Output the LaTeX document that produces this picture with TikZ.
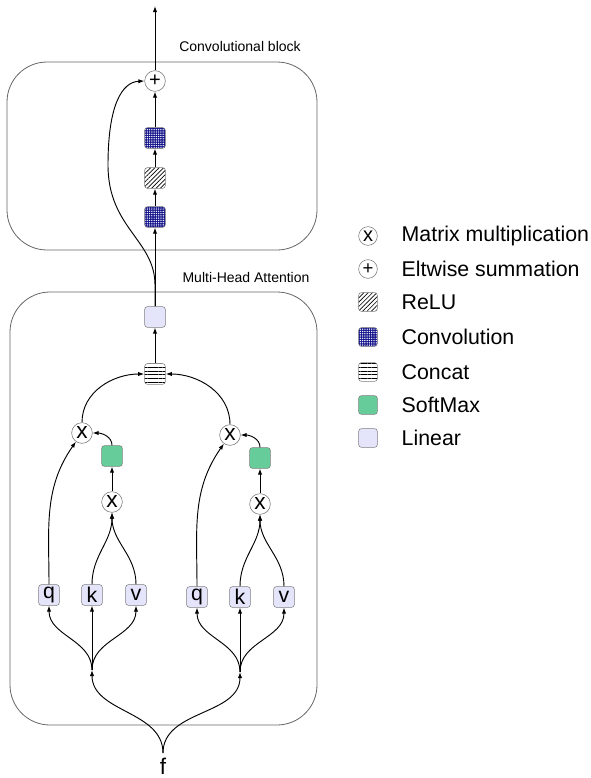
\documentclass[tikz,border=0pt]{standalone}
\usepackage{fontspec}
\setmainfont{Liberation Sans}
\usetikzlibrary{arrows.meta,patterns.meta}
\definecolor{convblue}{RGB}{20,20,140}
\definecolor{softgreen}{RGB}{102,204,153}
\definecolor{linlav}{RGB}{228,228,250}

\begin{document}
\begin{tikzpicture}[x=0.75pt, y=-0.75pt,
        arr/.style={-{Latex[length=4.5pt,width=3.2pt]}, line width=0.7pt},
        frame/.style={draw=black!60, line width=0.6pt, rounded corners=30pt},
        op/.style={circle, draw=black!55, fill=white, minimum size=15.5pt, inner sep=0pt},
        blk/.style={rectangle, rounded corners=2pt, draw=black!50, minimum size=15.5pt, inner sep=0pt},
        conv/.style={blk, preaction={fill=convblue}, pattern={Dots[distance=1.7pt,radius=0.55pt]}, pattern color=white},
        relu/.style={blk, preaction={fill=white}, pattern={Lines[angle=45,distance=2.3pt,line width=0.5pt]}},
        concat/.style={blk, preaction={fill=white}, pattern={Lines[angle=0,distance=2.8pt,line width=0.7pt]}},
        soft/.style={blk, fill=softgreen},
        lin/.style={blk, fill=linlav},
        qkv/.style={blk, fill=linlav, font=\fontsize{16}{16}\selectfont},
        small/.style={font=\fontsize{10.5}{12}\selectfont},
        legtxt/.style={anchor=west, font=\fontsize{16}{18}\selectfont}]
    \useasboundingbox (0,0) rectangle (590,778);

    % frames
    \draw[frame] (7,62) rectangle (317,250);
    \draw[frame] (10,292) rectangle (317,725);
    \node[small] (convlab) at (240,46) {Convolutional block};
    \node[small] (mhalab) at (246,277) {Multi-Head Attention};

    % convolutional block
    \coordinate (out) at (155,6);
    \node[op, font=\fontsize{15}{15}\selectfont] (plus) at (155,81) {+};
    \node[conv] (convA) at (155,138) {};
    \node[relu] (relu) at (155,178) {};
    \node[conv] (convB) at (155,217) {};

    % attention
    \node[lin] (lin) at (155,317) {};
    \node[concat] (cat) at (155,374) {};
    \node (f) at (163,766) {\fontsize{17}{17}\selectfont f};

    \foreach \h/\dx/\dy in {L/0/0, R/148/2}{
        \node[op, font=\fontsize{17}{17}\selectfont] (mul\h) at (82+\dx,433+\dy) {x};
        \node[soft] (sm\h) at (112+\dx,456+\dy) {};
        \node[op, font=\fontsize{17}{17}\selectfont] (dot\h) at (112+\dx,502+\dy) {x};
        \node[qkv] (q\h) at (49+\dx,595+\dy) {q};
        \node[qkv] (k\h) at (92+\dx,595+\dy) {k};
        \node[qkv] (v\h) at (136+\dx,595+\dy) {v};
        \coordinate (split\h) at (92+\dx,670+\dy);

        \draw[arr] (f.north) to[out=90,in=270] (split\h);
        \draw[arr] (split\h) to[out=90,in=270] (q\h.south);
        \draw[arr] (split\h) -- (k\h.south);
        \draw[arr] (split\h) to[out=90,in=270] (v\h.south);
        \draw[arr] (k\h.north) to[out=90,in=270] (dot\h.south);
        \draw[arr] (v\h.north) to[out=90,in=270] (dot\h.south);
        \draw[arr] (dot\h) -- (sm\h);
        \draw[arr] (sm\h.north) to[out=90,in=0] (mul\h.east);
        \draw[arr] (q\h.north) to[out=90,in=235] (mul\h.235);
    }
    \draw[arr] (mulL.north) to[out=90,in=180] (cat.west);
    \draw[arr] (mulR.north) to[out=90,in=0] (cat.east);

    \draw[arr] (cat) -- (lin);
    \draw[arr] (lin) -- (convB);
    \draw[arr] (convB) -- (relu);
    \draw[arr] (relu) -- (convA);
    \draw[arr] (convA) -- (plus);
    \draw[arr] (plus) -- (out);
    \draw[arr] (lin.north) -- (155,285) .. controls (155,240) and (108,228) .. (108,165)
        .. controls (108,105) and (122,82) .. (plus.west);

    % legend
    \node[op, minimum size=14pt, font=\fontsize{15}{15}\selectfont] (legmul) at (368,236) {x};
    \node[legtxt] (legmultxt) at (397,236) {Matrix multiplication};
    \node[op, minimum size=14pt, font=\fontsize{14}{14}\selectfont] (legsum) at (368,269) {+};
    \node[legtxt] (legsumtxt) at (397,269) {Eltwise summation};
    \foreach \s/\t/\y in {relu/ReLU/302, conv/Convolution/337, concat/Concat/372,
                          soft/SoftMax/405, lin/Linear/438}{
        \node[\s, minimum size=14pt] (leg\s) at (368,\y) {};
        \node[legtxt] (leg\s txt) at (397,\y) {\t};
    }
\end{tikzpicture}
\end{document}
